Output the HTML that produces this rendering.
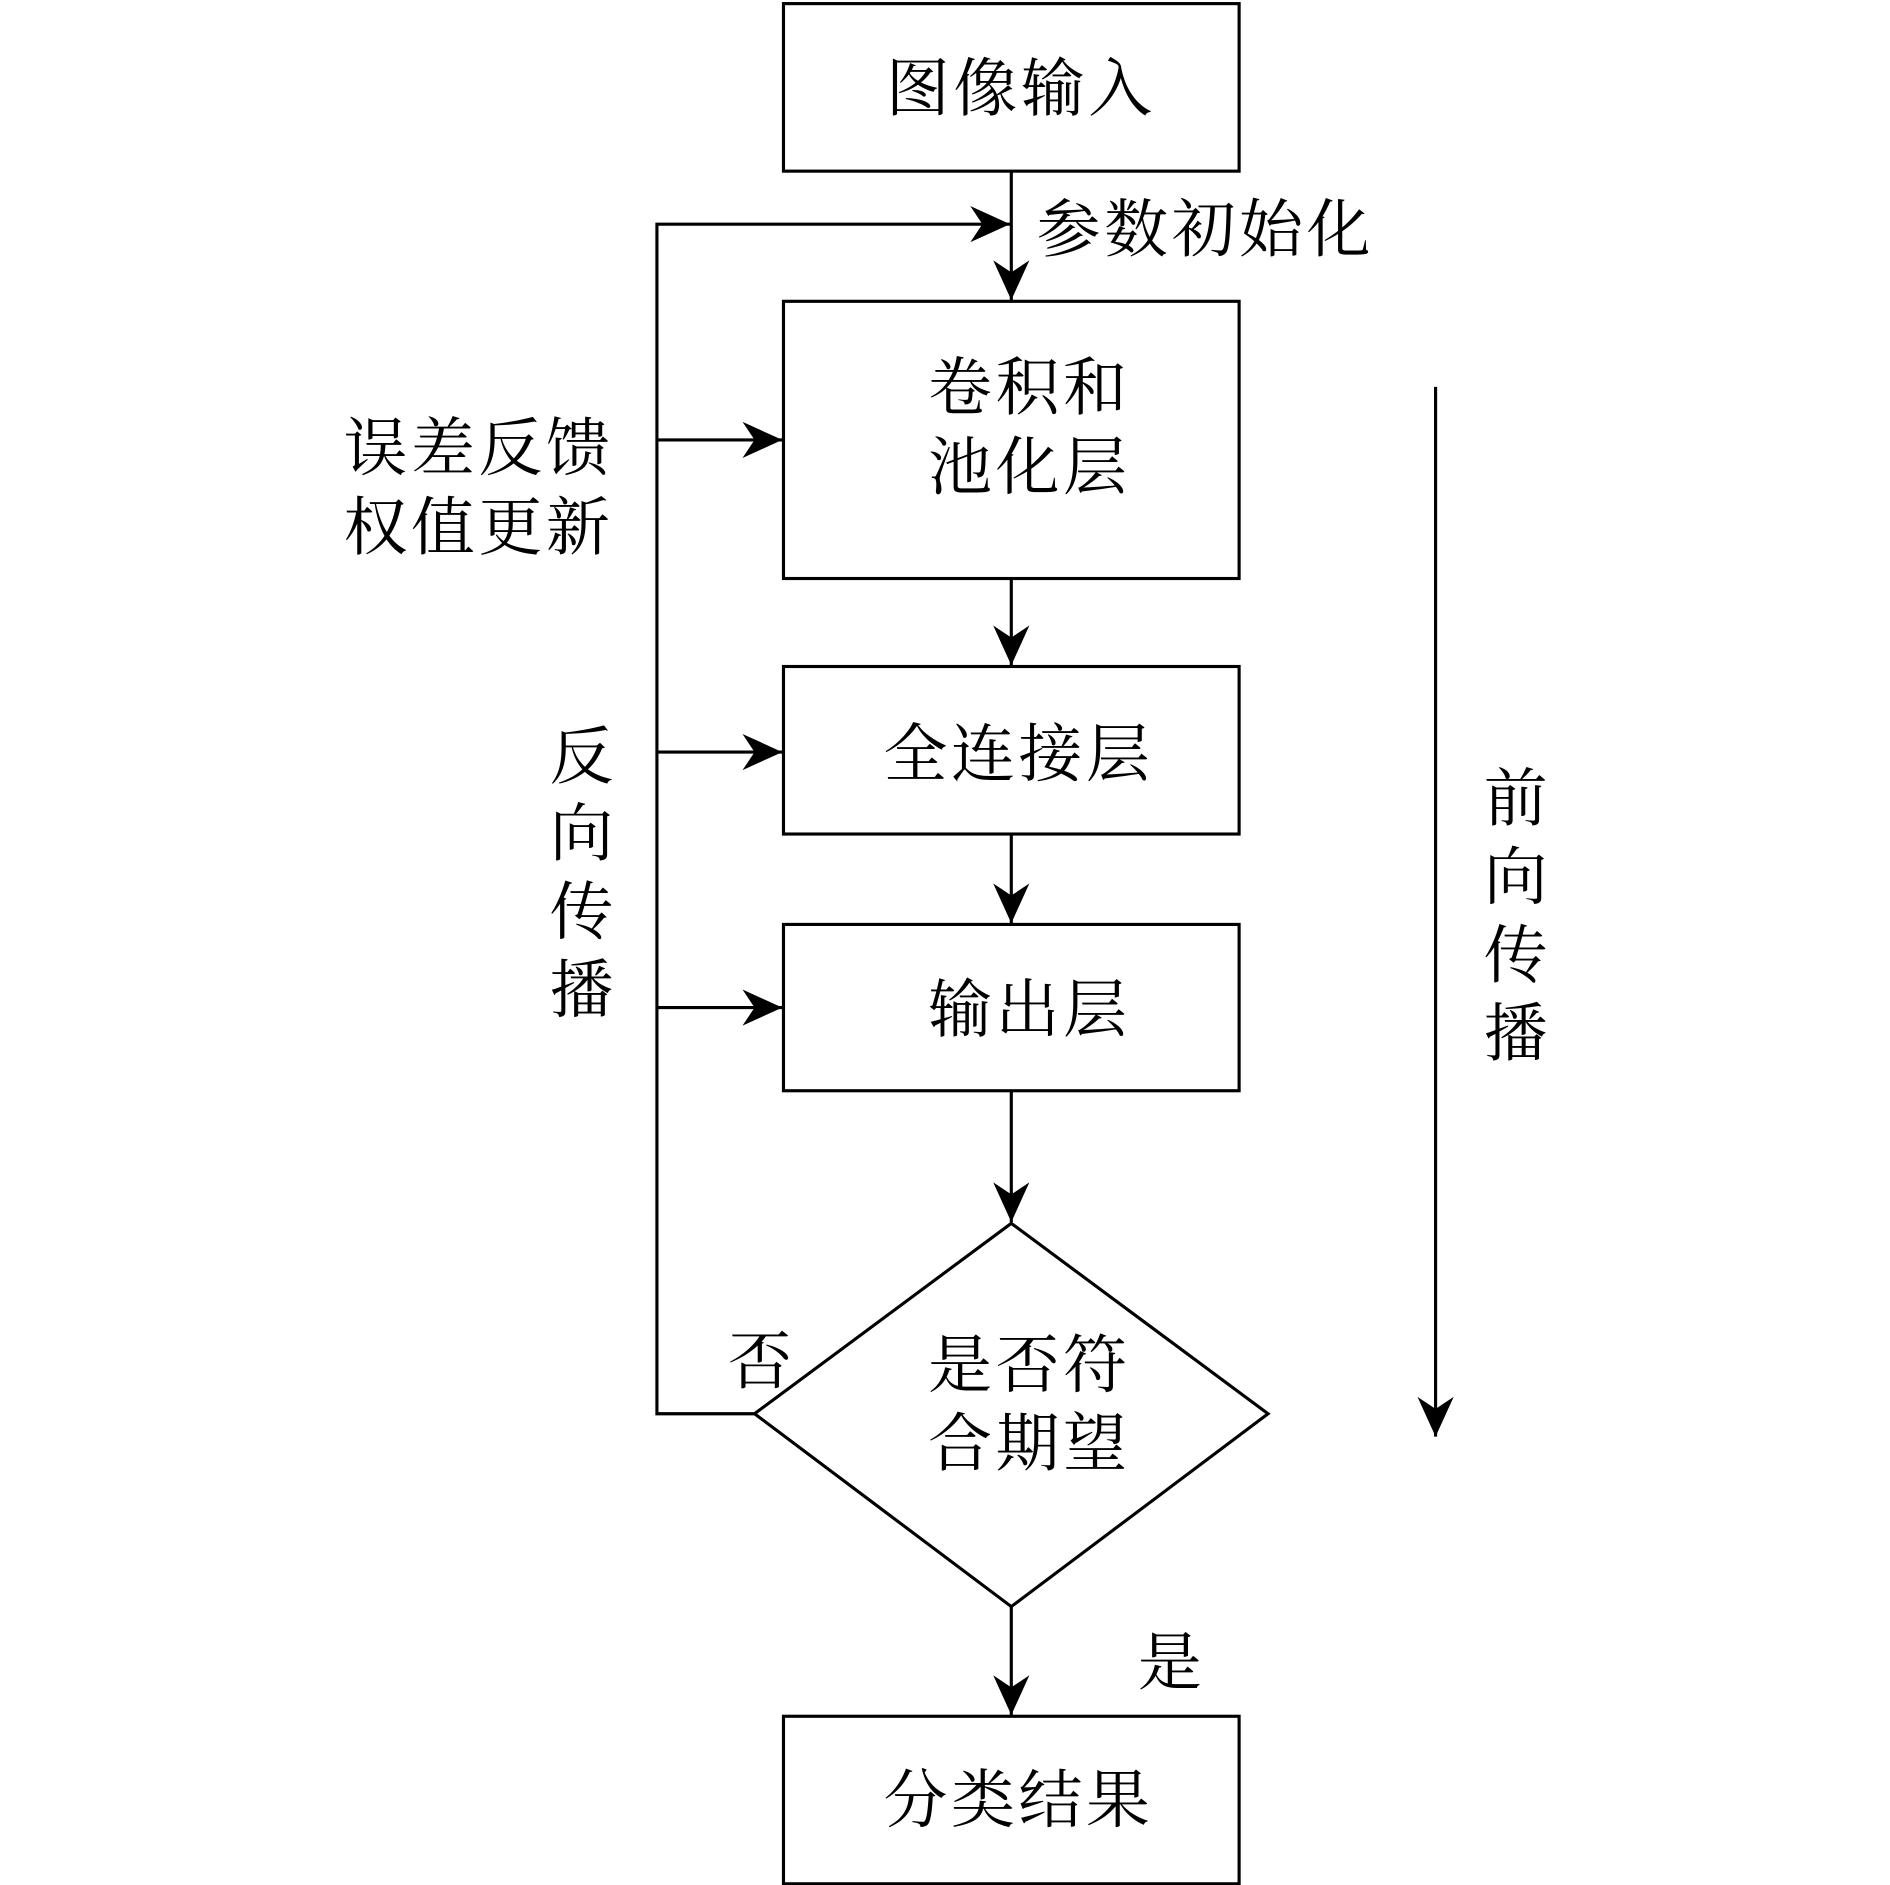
<!DOCTYPE html>
<html><head><meta charset="utf-8"><style>
html,body{margin:0;padding:0;background:#fff;}
svg{display:block;}
text{font-family:"Liberation Serif","Noto Serif CJK SC",serif;font-size:53px;fill:#000;dominant-baseline:central;letter-spacing:3px;}
</style></head><body>
<svg width="1890" height="1885" viewBox="0 0 1568 1564" preserveAspectRatio="none" xmlns="http://www.w3.org/2000/svg">
<defs>
<marker id="a" markerWidth="34" markerHeight="30" refX="33" refY="15" orient="auto" markerUnits="userSpaceOnUse">
<path d="M0,0 L33,15 L0,30 L10,15 Z" fill="#000"/>
</marker>
</defs>
<g fill="none" stroke="#000" stroke-width="2.6">
<rect x="650" y="3" width="378" height="139"/>
<rect x="650" y="250" width="378" height="230"/>
<rect x="650" y="553" width="378" height="139"/>
<rect x="650" y="767" width="378" height="138"/>
<rect x="650" y="1424" width="378" height="139"/>
<polygon points="839,1015 1052,1173 839,1333 626,1173"/>
<line x1="839" y1="142" x2="839" y2="249" marker-end="url(#a)"/>
<line x1="839" y1="480" x2="839" y2="552" marker-end="url(#a)"/>
<line x1="839" y1="692" x2="839" y2="766" marker-end="url(#a)"/>
<line x1="839" y1="905" x2="839" y2="1014" marker-end="url(#a)"/>
<line x1="839" y1="1333" x2="839" y2="1423" marker-end="url(#a)"/>
<polyline points="626,1173 545,1173 545,186 838,186" marker-end="url(#a)"/>
<line x1="545" y1="365" x2="649" y2="365" marker-end="url(#a)"/>
<line x1="545" y1="624" x2="649" y2="624" marker-end="url(#a)"/>
<line x1="545" y1="836" x2="649" y2="836" marker-end="url(#a)"/>
<line x1="1191" y1="321" x2="1191" y2="1192" marker-end="url(#a)"/>
</g>
<text x="735" y="74">图像输入</text>
<text x="860" y="191">参数初始化</text>
<text x="770" y="322">卷积和</text>
<text x="770" y="388">池化层</text>
<text x="285" y="372">误差反馈</text>
<text x="285" y="438">权值更新</text>
<text x="733" y="626">全连接层</text>
<text x="770" y="838">输出层</text>
<text x="456" y="628">反</text>
<text x="456" y="692">向</text>
<text x="456" y="757">传</text>
<text x="456" y="822">播</text>
<text x="1231" y="663">前</text>
<text x="1231" y="728">向</text>
<text x="1231" y="793">传</text>
<text x="1231" y="858">播</text>
<text x="604" y="1130">否</text>
<text x="770" y="1133">是否符</text>
<text x="770" y="1198">合期望</text>
<text x="944" y="1380">是</text>
<text x="733" y="1494">分类结果</text>
</svg>
</body></html>
